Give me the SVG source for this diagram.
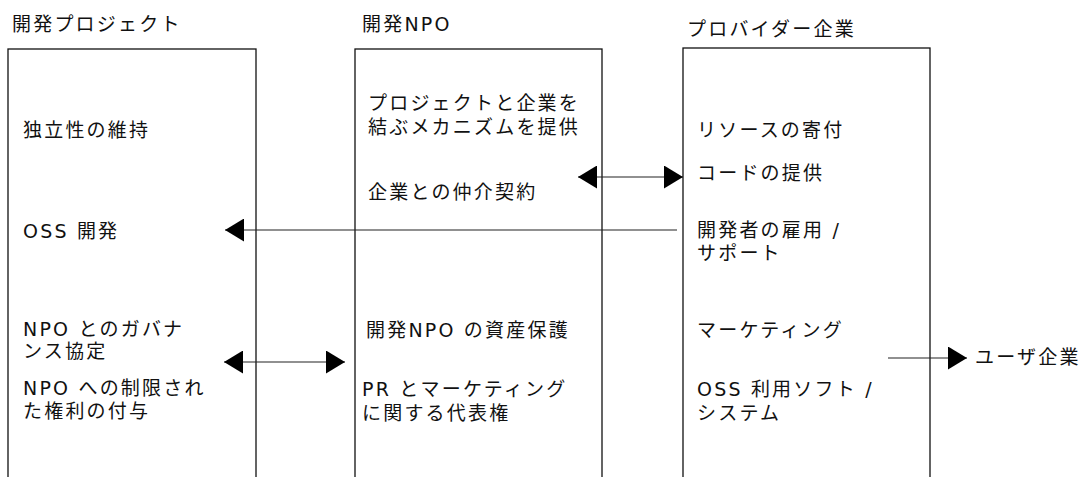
<svg xmlns="http://www.w3.org/2000/svg" width="1085" height="477" viewBox="0 0 1085 477">
  <style>
    .box { fill: #ffffff; stroke: #111111; stroke-width: 1.3; }
    .t { font-family: "DejaVu Sans", "Noto Sans CJK JP", sans-serif; font-size: 19px; letter-spacing: 2.2px; fill: #111111; }
    .c { fill: none; stroke: #222222; stroke-width: 1.1; }
  </style>
  <defs>
    <marker id="ah" markerUnits="userSpaceOnUse" markerWidth="19" markerHeight="23" refX="19" refY="11.5" orient="auto-start-reverse" viewBox="0 0 19 23">
      <path d="M0,0 L19,11.5 L0,23 Z" fill="#000000"/>
    </marker>
  </defs>
  <rect width="1085" height="477" fill="#ffffff"/>

  <g id="project">
    <text class="t" x="12" y="31">開発プロジェクト</text>
    <rect class="box" x="8" y="49" width="248" height="450"/>
    <text class="t" x="23" y="137">独立性の維持</text>
    <text class="t" x="23" y="238">OSS 開発</text>
    <text class="t" x="23" y="336">NPO とのガバナ</text>
    <text class="t" x="23" y="358">ンス協定</text>
    <text class="t" x="23" y="395">NPO への制限され</text>
    <text class="t" x="23" y="418">た権利の付与</text>
  </g>

  <g id="npo">
    <text class="t" x="362" y="31">開発NPO</text>
    <rect class="box" x="355" y="49" width="247" height="450"/>
    <text class="t" x="368" y="110">プロジェクトと企業を</text>
    <text class="t" x="368" y="134">結ぶメカニズムを提供</text>
    <text class="t" x="368" y="199">企業との仲介契約</text>
    <text class="t" x="366" y="337">開発NPO の資産保護</text>
    <text class="t" x="362" y="396">PR とマーケティング</text>
    <text class="t" x="362" y="420">に関する代表権</text>
  </g>

  <g id="provider">
    <text class="t" x="687" y="36">プロバイダー企業</text>
    <rect class="box" x="683" y="48" width="247" height="450"/>
    <text class="t" x="697" y="137">リソースの寄付</text>
    <text class="t" x="697" y="180">コードの提供</text>
    <text class="t" x="697" y="237">開発者の雇用 /</text>
    <text class="t" x="697" y="260">サポート</text>
    <text class="t" x="697" y="337">マーケティング</text>
    <text class="t" x="697" y="396">OSS 利用ソフト /</text>
    <text class="t" x="697" y="420">システム</text>
  </g>

  <g id="user-company">
    <text class="t" x="975" y="364">ユーザ企業</text>
  </g>

  <g id="connectors">
    <line class="c" x1="578" y1="177" x2="683" y2="177" marker-start="url(#ah)" marker-end="url(#ah)"/>
    <line class="c" x1="677" y1="230" x2="225" y2="230" marker-end="url(#ah)"/>
    <line class="c" x1="224" y1="362" x2="345" y2="362" marker-start="url(#ah)" marker-end="url(#ah)"/>
    <line class="c" x1="888" y1="358" x2="967" y2="358" marker-end="url(#ah)"/>
  </g>
</svg>
